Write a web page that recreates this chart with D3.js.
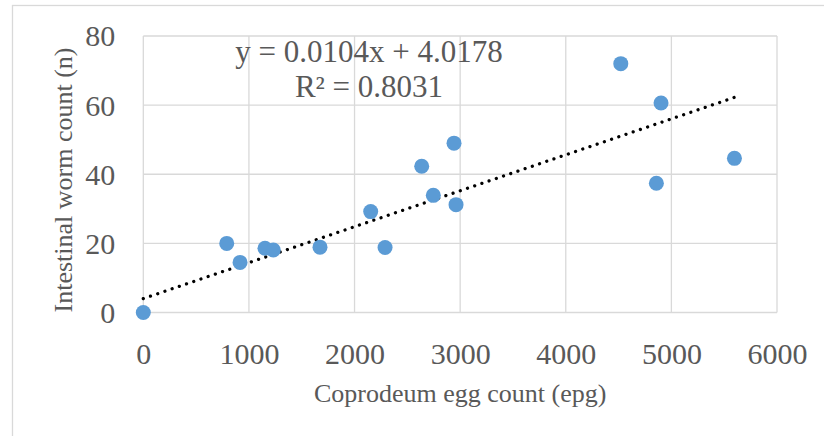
<!DOCTYPE html>
<html>
<head>
<meta charset="utf-8">
<script src="https://cdn.jsdelivr.net/npm/d3@7"></script>
<style>
  body { margin: 0; background: #fff; }
  text { font-family: "Liberation Serif", "Times New Roman", serif; fill: #595959; }
</style>
</head>
<body>
<div id="chart"></div>
<script>
// values
const eggCount  = [0, 790, 916, 1152, 1231, 1673, 2153, 2289, 2636, 2746, 2942, 2961, 4521, 4858, 4902, 5597];
const wormCount = [0, 20, 14.5, 18.6, 18.1, 18.9, 29.2, 18.8, 42.3, 33.9, 49, 31.2, 72, 37.4, 60.6, 44.6];
const xTicks = [0, 1000, 2000, 3000, 4000, 5000, 6000];
const yTicks = [0, 20, 40, 60, 80];
const slope = 0.0104, intercept = 4.0178;
const eqLines = ["y = 0.0104x + 4.0178", "R² = 0.8031"];

const W = 824, H = 436;
const margin = {top: 36, right: 47, bottom: 123.5, left: 143.3};
const width = W - margin.left - margin.right,
      height = H - margin.top - margin.bottom;

const svg = d3.select("#chart").append("svg")
    .attr("width", W)
    .attr("height", H);

// chart frame
svg.append("rect")
    .attr("x", 12.5).attr("y", 5.5)
    .attr("width", W).attr("height", H)
    .attr("fill", "none")
    .attr("stroke", "#d9d9d9")
    .attr("stroke-width", 1.3);

const g = svg.append("g")
    .attr("transform", "translate(" + margin.left + "," + margin.top + ")");

const x = d3.scaleLinear().domain([0, 6000]).range([0, width]);
const y = d3.scaleLinear().domain([0, 80]).range([height, 0]);

// grid
g.selectAll(".vgrid").data(xTicks).enter().append("line")
    .attr("x1", d => x(d)).attr("x2", d => x(d))
    .attr("y1", 0).attr("y2", height)
    .attr("stroke", "#d9d9d9").attr("stroke-width", 1.3);
g.selectAll(".hgrid").data(yTicks).enter().append("line")
    .attr("x1", 0).attr("x2", width)
    .attr("y1", d => y(d)).attr("y2", d => y(d))
    .attr("stroke", "#d9d9d9").attr("stroke-width", 1.3);

// axes (labels only)
const xAxis = g.append("g")
    .attr("transform", "translate(0," + height + ")")
    .call(d3.axisBottom(x).tickValues(xTicks).tickSize(0).tickPadding(30).tickFormat(d3.format("d")));
const yAxis = g.append("g")
    .call(d3.axisLeft(y).tickValues(yTicks).tickSize(0).tickPadding(28));
[xAxis, yAxis].forEach(a => {
  a.select(".domain").remove();
  a.selectAll("text")
      .style("font-family", "'Liberation Serif', 'Times New Roman', serif")
      .style("font-size", "30px")
      .attr("fill", "#595959");
});
yAxis.selectAll("text").attr("dy", "0.33em");
xAxis.selectAll("text").attr("dy", "0.71em");

// trendline
const trend = d3.line().x(d => x(d)).y(d => y(slope * d + intercept));
g.append("path")
    .datum([0, d3.max(eggCount)])
    .attr("d", trend)
    .attr("fill", "none")
    .attr("stroke", "#000")
    .attr("stroke-width", 3.3)
    .attr("stroke-linecap", "round")
    .attr("stroke-dasharray", "0.01 7.6");

// points
g.selectAll(".dot").data(eggCount).enter().append("circle")
    .attr("cx", d => x(d))
    .attr("cy", (d, i) => y(wormCount[i]))
    .attr("r", 7.5)
    .attr("fill", "#5b9bd5");

// equation label
svg.append("text")
    .attr("x", 369).attr("y", 62)
    .attr("text-anchor", "middle")
    .style("font-size", "31px")
    .selectAll("tspan").data(eqLines).enter().append("tspan")
    .attr("x", 369)
    .attr("dy", (d, i) => i === 0 ? 0 : 35)
    .text(d => d);

// axis titles
svg.append("text")
    .attr("x", margin.left + width / 2).attr("y", 402)
    .attr("text-anchor", "middle")
    .style("font-size", "26px")
    .text("Coprodeum egg count (epg)");
svg.append("text")
    .attr("transform", "translate(72,180) rotate(-90)")
    .attr("text-anchor", "middle")
    .style("font-size", "26px")
    .text("Intestinal worm count (n)");
</script>
</body>
</html>
